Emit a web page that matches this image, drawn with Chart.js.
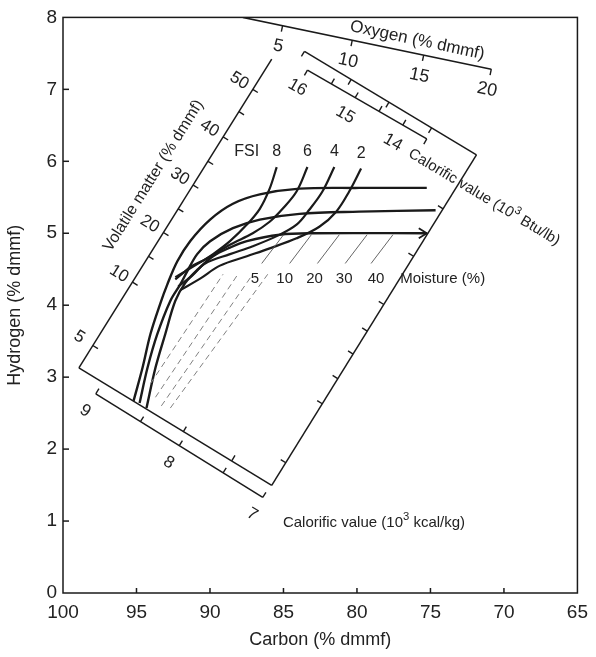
<!DOCTYPE html>
<html><head><meta charset="utf-8">
<script src="https://cdn.jsdelivr.net/npm/chart.js@4.4.0/dist/chart.umd.min.js"></script>
<style>html,body{margin:0;padding:0;background:#fff;}#wrap{width:596px;height:657px;}</style>
</head><body><div id="wrap"><canvas id="c" width="596" height="657"></canvas></div>
<script>
// ---------- axes ----------
const carbonTicks = [100, 95, 90, 85, 80, 75, 70, 65];
const hydrogenTicks = [0, 1, 2, 3, 4, 5, 6, 7, 8];

// ---------- coal band curves [carbon %, hydrogen %] ----------
const bandUpper  = [[95.2,2.67],[94.59,3.13],[94.05,3.60],[93.37,4.03],[92.9,4.29],[92.22,4.61],[91.35,4.89],[89.99,5.19],[88.44,5.41],[86.61,5.54],[83.91,5.62],[79.85,5.63],[75.25,5.63]];
const bandMiddle = [[94.79,2.64],[94.25,3.13],[93.58,3.60],[92.70,4.06],[92.02,4.29],[91.55,4.47],[90.87,4.71],[89.99,4.89],[88.44,5.07],[86.61,5.19],[83.91,5.27],[79.85,5.30],[74.65,5.32]];
const bandLower  = [[94.32,2.57],[93.71,3.13],[93.04,3.60],[92.36,4.06],[91.68,4.31],[90.81,4.50],[89.79,4.68],[88.64,4.80],[87.49,4.89],[85.26,4.98],[83.03,5.00],[75.25,5.00]];

// ---------- free swelling index curves ----------
const fsiValues = ['8', '6', '4', '2'];
const fsi8 = [[85.46,5.92],[85.94,5.62],[86.61,5.34],[87.49,5.12],[88.64,4.89],[89.79,4.71],[90.87,4.57],[91.68,4.47],[92.36,4.39]];
const fsi6 = [[83.37,5.92],[84.11,5.58],[85.06,5.34],[85.94,5.16],[87.09,5.00],[88.64,4.84],[90.20,4.65],[91.35,4.53],[91.82,4.45],[92.36,4.36]];
const fsi4 = [[81.54,5.92],[82.35,5.58],[83.23,5.33],[84.11,5.12],[85.46,4.96],[87.09,4.82],[88.64,4.71],[90.33,4.58],[91.21,4.41],[92.16,4.26]];
const fsi2 = [[79.72,5.90],[80.53,5.58],[81.41,5.30],[82.56,5.09],[84.11,4.93],[85.94,4.79],[87.49,4.68],[89.32,4.55],[90.67,4.37],[92.02,4.21]];

// ---------- moisture lines ----------
const moistureValues = [5, 10, 20, 30, 40];
const moistureDashed = [
  [[94.05,2.91],[89.11,4.43]],
  [[93.71,2.72],[88.10,4.43]],
  [[93.31,2.60],[87.09,4.43]],
  [[92.70,2.57],[86.07,4.43]]
];
const moistureHatch = [
  [[86.48,4.58],[84.99,4.98]],
  [[84.58,4.58],[83.10,4.98]],
  [[82.69,4.58],[81.20,4.98]],
  [[80.80,4.58],[79.31,4.98]],
  [[79.04,4.58],[77.55,4.98]]
];
const moistureLabelCarbon = [86.95, 84.92, 82.89, 80.87, 78.70];
const moistureLabelH = 4.37;

// ---------- nomogram scales ----------
const oxygenLine = [[87.76,8.0],[70.86,7.28]];
const oxygenTicks = [[85.06,7.885],[80.32,7.683],[75.46,7.476],[70.86,7.28]];
const oxygenLabels = ['5','10','15','20'];

const vmLine = [[98.92,3.128],[85.80,7.419]];
const vmTicks = [[97.97,3.44],[95.27,4.32],[94.19,4.68],[93.17,5.01],[92.16,5.34],[91.14,5.67],[90.13,6.00],[89.11,6.34],[88.03,6.69],[87.09,7.00]];
const vmLabels = ['5','10','','20','','30','','40','','50'];

const bottomEdge = [[98.92,3.128],[85.80,1.495]];
const bottomEdgeTicks = [[91.82,2.24],[88.51,1.84]];

const kcalLine = [[97.77,2.768],[86.41,1.329]];
const kcalTicks = [[97.77,2.768],[94.73,2.382],[92.09,2.047],[89.11,1.669],[86.41,1.329]];
const kcalLabels = ['9','','8','','7'];

const rightEdge = [[85.80,1.495],[71.87,6.090]];
const rightEdgeTicks = [[84.84,1.81],[82.36,2.63],[81.31,2.98],[80.26,3.32],[79.30,3.64],[78.17,4.01],[76.15,4.68],[74.14,5.34]];

const btuOuterLine = [[83.57,7.529],[71.87,6.090]];
const btuOuterTicks = [[83.57,7.529],[80.39,7.138],[77.82,6.822],[74.92,6.465]];

const btuLine = [[83.37,7.266],[75.25,6.311]];
const btuTicks = [[81.74,7.076],[80.12,6.884],[78.50,6.694],[76.88,6.503]];
const btuHooks = [[83.37,7.266],[75.25,6.311]];
const btuLabelPts = [[83.37,7.266],[80.12,6.884],[76.88,6.503]];
const btuLabels = ['16','15','14'];

// free text anchors [carbon, hydrogen]
const textOxygen = [75.9, 7.68];
const textVM = [93.85, 5.80];
const textBtu = [71.35, 5.50];
const textKcal = [78.84, 0.98];
const textMoisture = [74.17, 4.37];

// ---------- helpers ----------
const P = a => a.map(([x, y]) => ({x, y}));
const FONT = '"Liberation Sans", Arial, Helvetica, sans-serif';
function ds(arr, o) {
  return Object.assign({data: P(arr), showLine: true, borderColor: '#1a1a1a', borderWidth: 1.5,
    pointRadius: 0, pointHoverRadius: 0, tension: 0, fill: false}, o || {});
}
const datasets = [];
moistureDashed.forEach(l => datasets.push(ds(l, {borderColor: '#808080', borderWidth: 1, borderDash: [6, 4]})));
moistureHatch.forEach(l => datasets.push(ds(l, {borderColor: '#555', borderWidth: 0.9})));
[bandUpper, bandMiddle, bandLower].forEach(c => datasets.push(ds(c, {borderWidth: 2.4, tension: 0.35})));
[fsi8, fsi6, fsi4, fsi2].forEach(c => datasets.push(ds(c, {borderWidth: 2.2, tension: 0.35})));
[oxygenLine, vmLine, bottomEdge, kcalLine, rightEdge, btuOuterLine, btuLine].forEach(l => datasets.push(ds(l)));

function txt(ctx, s, x, y, rot, size, align) {
  ctx.save(); ctx.translate(x, y); ctx.rotate(rot * Math.PI / 180);
  ctx.font = size + 'px ' + FONT; ctx.textAlign = align || 'center'; ctx.textBaseline = 'middle';
  ctx.fillStyle = '#222'; ctx.fillText(s, 0, 0); ctx.restore();
}
function rich(ctx, parts, x, y, rot, size) {
  ctx.save(); ctx.translate(x, y); ctx.rotate(rot * Math.PI / 180);
  ctx.textBaseline = 'middle'; ctx.textAlign = 'left'; ctx.fillStyle = '#222';
  let w = 0;
  parts.forEach(p => { ctx.font = (p.sup ? size * 0.75 : size) + 'px ' + FONT; w += ctx.measureText(p.t).width; });
  let cx = -w / 2;
  parts.forEach(p => { ctx.font = (p.sup ? size * 0.75 : size) + 'px ' + FONT;
    ctx.fillText(p.t, cx, p.sup ? -size * 0.38 : 0); cx += ctx.measureText(p.t).width; });
  ctx.restore();
}

const nomo = {
  id: 'nomo',
  afterDatasetsDraw(ch) {
    const ctx = ch.ctx, X = ch.scales.x, Y = ch.scales.y, a = ch.chartArea;
    const px = p => [X.getPixelForValue(p[0]), Y.getPixelForValue(p[1])];
    const seg = (x1, y1, x2, y2) => { ctx.beginPath(); ctx.moveTo(x1, y1); ctx.lineTo(x2, y2); ctx.stroke(); };
    ctx.save();
    ctx.strokeStyle = '#1a1a1a'; ctx.lineWidth = 1.5;
    ctx.strokeRect(a.left, a.top, a.right - a.left, a.bottom - a.top);
    carbonTicks.forEach(v => { if (v === 100 || v === 65) return; const x = X.getPixelForValue(v); seg(x, a.bottom, x, a.bottom - 5); });
    hydrogenTicks.forEach(v => { if (v === 0 || v === 8) return; const y = Y.getPixelForValue(v); seg(a.left, y, a.left + 6, y); });

    function scaleTicks(line, ticks, side, len, labels, dist, rot, size) {
      const p1 = px(line[0]), p2 = px(line[1]);
      const L = Math.hypot(p2[0] - p1[0], p2[1] - p1[1]);
      const ux = (p2[0] - p1[0]) / L, uy = (p2[1] - p1[1]) / L;
      const nx = -uy * side, ny = ux * side;
      ticks.forEach((t, i) => {
        const q = px(t);
        if (len) seg(q[0], q[1], q[0] + nx * len, q[1] + ny * len);
        if (labels && labels[i]) txt(ctx, labels[i], q[0] + nx * dist, q[1] + ny * dist, rot, size);
      });
    }
    ctx.lineWidth = 1.4;
    scaleTicks(oxygenLine, oxygenTicks, 1, 6, oxygenLabels, 21, 12, 18);
    scaleTicks(vmLine, vmTicks, 1, 6, null);
    scaleTicks(vmLine, vmTicks, -1, 0, vmLabels, 16, 32, 17);
    scaleTicks(bottomEdge, bottomEdgeTicks, -1, 6, null);
    scaleTicks(kcalLine, kcalTicks, -1, 6, null);
    scaleTicks(kcalLine, kcalTicks, 1, 0, kcalLabels, 20, 31, 17);
    scaleTicks(rightEdge, rightEdgeTicks, -1, 6, null);
    scaleTicks(btuOuterLine, btuOuterTicks, 1, 6, null);
    scaleTicks(btuLine, btuTicks, -1, 6, null);
    scaleTicks(btuLine, btuHooks, 1, 6, null);
    scaleTicks(btuLine, btuLabelPts, 1, 0, btuLabels, 20, 30, 17);

    // arrow at end of lower band line
    ctx.lineWidth = 1.8;
    const e = px(bandLower[bandLower.length - 1]);
    ctx.beginPath(); ctx.moveTo(e[0] - 8, e[1] - 5); ctx.lineTo(e[0], e[1]); ctx.lineTo(e[0] - 8, e[1] + 5); ctx.stroke();

    // FSI labels
    [fsi8, fsi6, fsi4, fsi2].forEach((c, i) => { const q = px(c[0]); txt(ctx, fsiValues[i], q[0], q[1] - 15, 0, 16); });
    const q8 = px(fsi8[0]); txt(ctx, 'FSI', q8[0] - 30, q8[1] - 15, 0, 16);

    // moisture labels
    moistureValues.forEach((v, i) => { const q = px([moistureLabelCarbon[i], moistureLabelH]); txt(ctx, String(v), q[0], q[1], 0, 15); });
    let q = px(textMoisture); txt(ctx, 'Moisture (%)', q[0], q[1], 0, 15);
    q = px(textOxygen); txt(ctx, 'Oxygen (% dmmf)', q[0], q[1], 12, 17);
    q = px(textVM); txt(ctx, 'Volatile matter (% dmmf)', q[0], q[1], -58, 16);
    q = px(textBtu); rich(ctx, [{t: 'Calorific value (10'}, {t: '3', sup: true}, {t: ' Btu/lb)'}], q[0], q[1], 31, 15);
    q = px(textKcal); rich(ctx, [{t: 'Calorific value (10'}, {t: '3', sup: true}, {t: ' kcal/kg)'}], q[0], q[1], 0, 15);
    ctx.restore();
  }
};

new Chart(document.getElementById('c'), {
  type: 'scatter',
  data: {datasets},
  plugins: [nomo],
  options: {
    responsive: false, animation: false, devicePixelRatio: 1,
    layout: {padding: {top: 15, right: 15, left: 0, bottom: 0}},
    plugins: {legend: {display: false}, tooltip: {enabled: false}},
    scales: {
      x: {type: 'linear', min: 65, max: 100, reverse: true,
        afterBuildTicks: s => { s.ticks = carbonTicks.map(v => ({value: v})); },
        afterFit: s => { s.height = 64; },
        grid: {display: false, drawTicks: false}, border: {display: false},
        ticks: {padding: 8, color: '#222', font: {size: 19, family: FONT}},
        title: {display: true, text: 'Carbon (% dmmf)', color: '#222', font: {size: 18, family: FONT}, padding: {top: 0, bottom: 6}}},
      y: {type: 'linear', min: 0, max: 8,
        afterBuildTicks: s => { s.ticks = hydrogenTicks.map(v => ({value: v})); },
        afterFit: s => { s.width = 63; },
        grid: {display: false, drawTicks: false}, border: {display: false},
        ticks: {padding: 6, color: '#222', font: {size: 19, family: FONT}},
        title: {display: true, text: 'Hydrogen (% dmmf)', color: '#222', font: {size: 18, family: FONT}, padding: {top: 4, bottom: 0}}}
    }
  }
});
</script></body></html>
